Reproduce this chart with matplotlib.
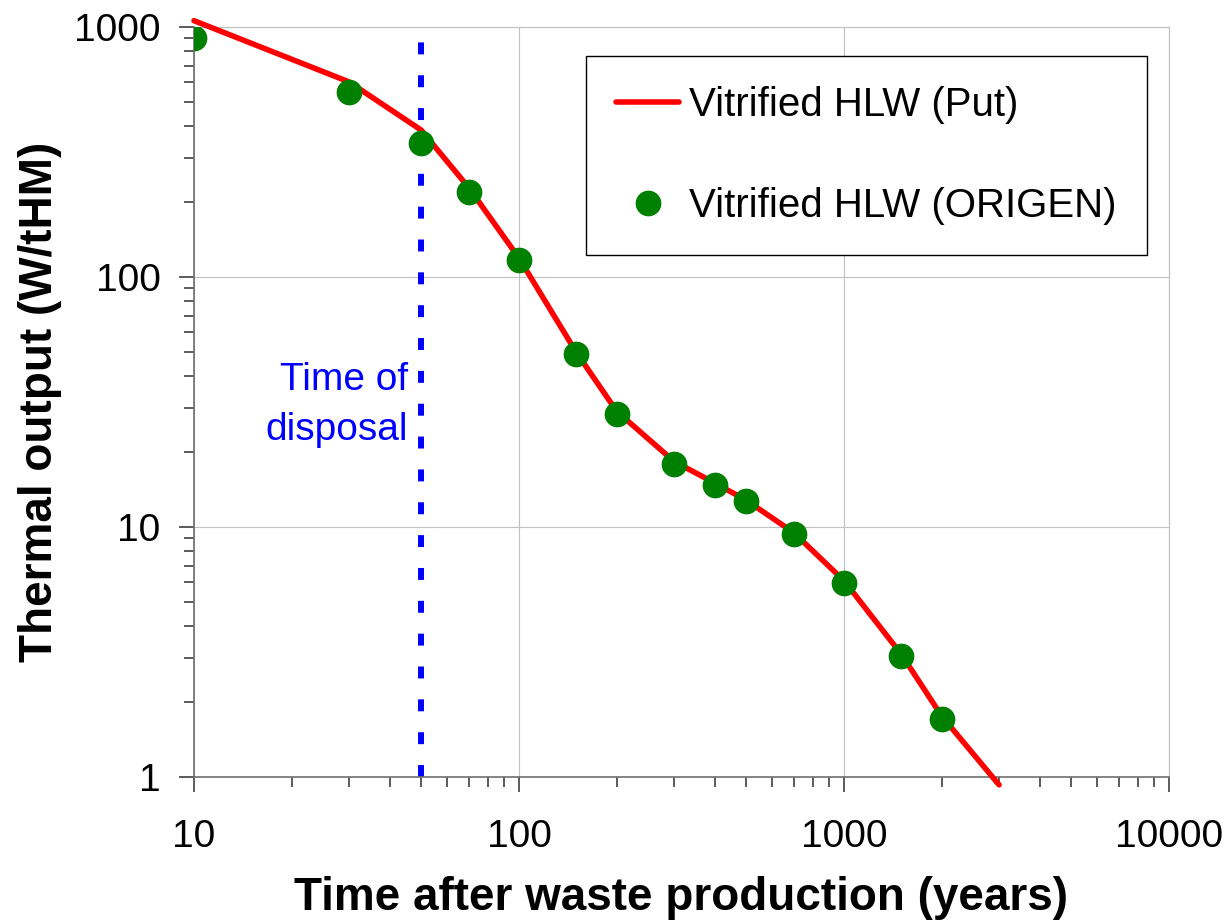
import matplotlib
matplotlib.use('Agg')
import matplotlib.pyplot as plt

plt.rcParams['font.family'] = ['Liberation Sans', 'DejaVu Sans']

# Vitrified HLW, Put curve
time_put = [10, 30, 50, 70, 100, 150, 200, 300, 400, 500, 700, 1000, 1500, 2000, 3000]
heat_put = [1060, 603, 387, 228, 119, 50, 29, 18.3, 15, 12.8, 9.5, 6.1, 3.1, 1.75, 0.93]

# Vitrified HLW, ORIGEN points
time_origen = [10, 30, 50, 70, 100, 150, 200, 300, 400, 500, 700, 1000, 1500, 2000]
heat_origen = [904, 550, 343, 219, 117, 49, 28.3, 17.9, 14.7, 12.7, 9.4, 5.97, 3.05, 1.71]

disposal_time = 50
disposal_range = [1, 1000]

fig = plt.figure(figsize=(12.29, 9.23), dpi=100)
ax = fig.add_axes([194/1229, 1 - 777/923, 975/1229, 750/923])

ax.plot([disposal_time, disposal_time], disposal_range, color='#0000ff', lw=4.3,
        linestyle=(0, (2.0, 3.5)), zorder=2)
ax.plot(time_put, heat_put, color='#ff0000', lw=4, solid_capstyle='round',
        solid_joinstyle='round', clip_on=False, zorder=3, label='Vitrified HLW (Put)')
ax.plot(time_origen, heat_origen, linestyle='none', marker='o', ms=17.5,
        color='#008000', zorder=4, label='Vitrified HLW (ORIGEN)')

ax.set_xscale('log')
ax.set_yscale('log')
ax.set_xlim(10, 10000)
ax.set_ylim(1, 1000)
ax.set_xticks([10, 100, 1000, 10000])
ax.set_xticklabels(['10', '100', '1000', '10000'])
ax.set_yticks([1, 10, 100, 1000])
ax.set_yticklabels(['1', '10', '100', '1000'])

ax.grid(True, which='major', color='#c0c0c0', lw=0.8)
ax.set_axisbelow(True)
for s in ['top', 'right']:
    ax.spines[s].set_color('#c0c0c0')
    ax.spines[s].set_linewidth(0.8)
for s in ['left', 'bottom']:
    ax.spines[s].set_color('#707070')
    ax.spines[s].set_linewidth(1.2)

ax.tick_params(axis='both', which='major', labelsize=28, length=11, width=1.2,
               color='#404040', direction='out')
ax.tick_params(axis='both', which='minor', length=7, width=1.2, color='#404040',
               direction='out')
ax.tick_params(axis='y', which='major', pad=13)
ax.tick_params(axis='x', which='major', pad=19)

ax.set_xlabel('Time after waste production (years)', fontsize=33, fontweight='bold')
ax.set_ylabel('Thermal output (W/tHM)', fontsize=33, fontweight='bold')
ax.xaxis.set_label_coords(0.5, -0.132)
ax.yaxis.set_label_coords(-0.135, 0.5)

ax.text(0.2195, 0.516, 'Time of', transform=ax.transAxes, ha='right',
        va='baseline', fontsize=28, color='#0000ff')
ax.text(0.2195, 0.449, 'disposal', transform=ax.transAxes, ha='right',
        va='baseline', fontsize=28, color='#0000ff')

leg = ax.legend(loc='upper right', bbox_to_anchor=(0.9774, 0.9613), borderaxespad=0,
                fontsize=29, numpoints=1, handlelength=1.56, handletextpad=0.25,
                borderpad=0.75, labelspacing=1.55, fancybox=False, framealpha=1,
                edgecolor='black')
leg.get_frame().set_linewidth(1)

fig.savefig('out.png', dpi=100)
